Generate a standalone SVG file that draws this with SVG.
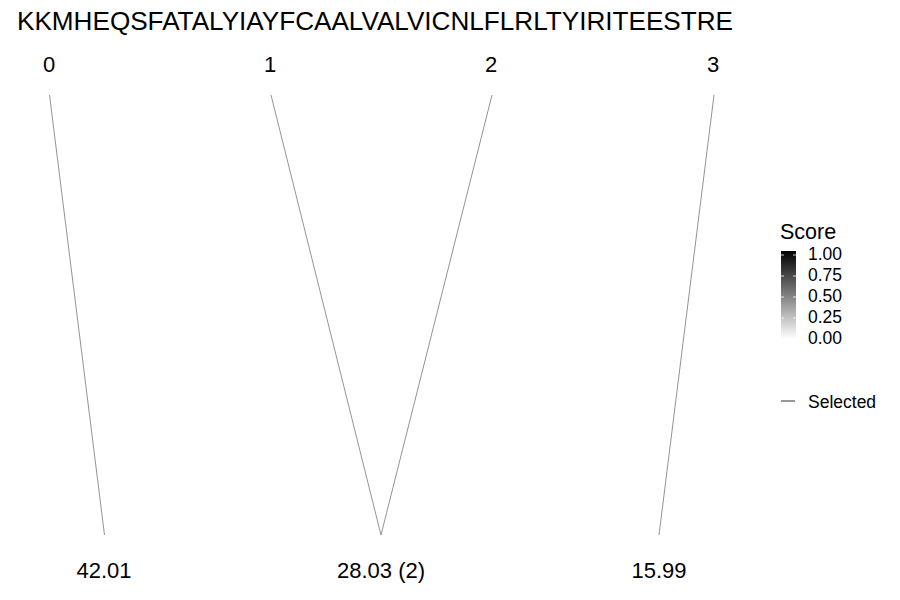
<svg xmlns="http://www.w3.org/2000/svg" width="900" height="600" viewBox="0 0 900 600">
<style>
text{font-family:"Liberation Sans",Arial,sans-serif;fill:#000}
.lab{font-size:22px;text-anchor:middle}
.tick{font-size:17.5px}
.conn line{stroke:#777;stroke-width:0.8}
</style>
<defs>
<linearGradient id="g" x1="0" y1="0" x2="0" y2="1">
<stop offset="0" stop-color="#000"/>
<stop offset="1" stop-color="#fff"/>
</linearGradient>
</defs>
<rect width="900" height="600" fill="#fff"/>
<text id="title" x="17" y="30" font-size="26" textLength="716" lengthAdjust="spacingAndGlyphs">KKMHEQSFATALYIAYFCAALVALVICNLFLRLTYIRITEESTRE</text>
<g id="n0"><text class="lab" x="49" y="72">0</text></g>
<g id="n1"><text class="lab" x="270" y="72">1</text></g>
<g id="n2"><text class="lab" x="491" y="72">2</text></g>
<g id="n3"><text class="lab" x="713" y="72">3</text></g>
<g id="b0"><text class="lab" x="104" y="578">42.01</text></g>
<g id="b1"><text class="lab" x="381" y="578">28.03 (2)</text></g>
<g id="b2"><text class="lab" x="659" y="578">15.99</text></g>
<g class="conn" id="connectors">
<line x1="49.5" y1="95" x2="104.5" y2="535"/>
<line x1="271" y1="95" x2="381" y2="535"/>
<line x1="492" y1="95" x2="381" y2="535"/>
<line x1="714" y1="95" x2="659" y2="535"/>
</g>
<g id="legend">
<text x="780" y="239" font-size="21.5">Score</text>
<rect x="781" y="251" width="15" height="88" fill="url(#g)"/>
<g stroke="#fff" stroke-width="0.8">
<line x1="781" y1="255" x2="784" y2="255"/><line x1="793" y1="255" x2="796" y2="255"/>
<line x1="781" y1="276" x2="784" y2="276"/><line x1="793" y1="276" x2="796" y2="276"/>
<line x1="781" y1="297" x2="784" y2="297"/><line x1="793" y1="297" x2="796" y2="297"/>
<line x1="781" y1="318" x2="784" y2="318"/><line x1="793" y1="318" x2="796" y2="318"/>
<line x1="781" y1="339" x2="784" y2="339"/><line x1="793" y1="339" x2="796" y2="339"/>
</g>
<text class="tick" x="808" y="260">1.00</text>
<text class="tick" x="808" y="281">0.75</text>
<text class="tick" x="808" y="302">0.50</text>
<text class="tick" x="808" y="323">0.25</text>
<text class="tick" x="808" y="344">0.00</text>
<line x1="781" y1="401" x2="795" y2="401" stroke="#333" stroke-width="1"/>
<text class="tick" x="808" y="408">Selected</text>
</g>
</svg>
